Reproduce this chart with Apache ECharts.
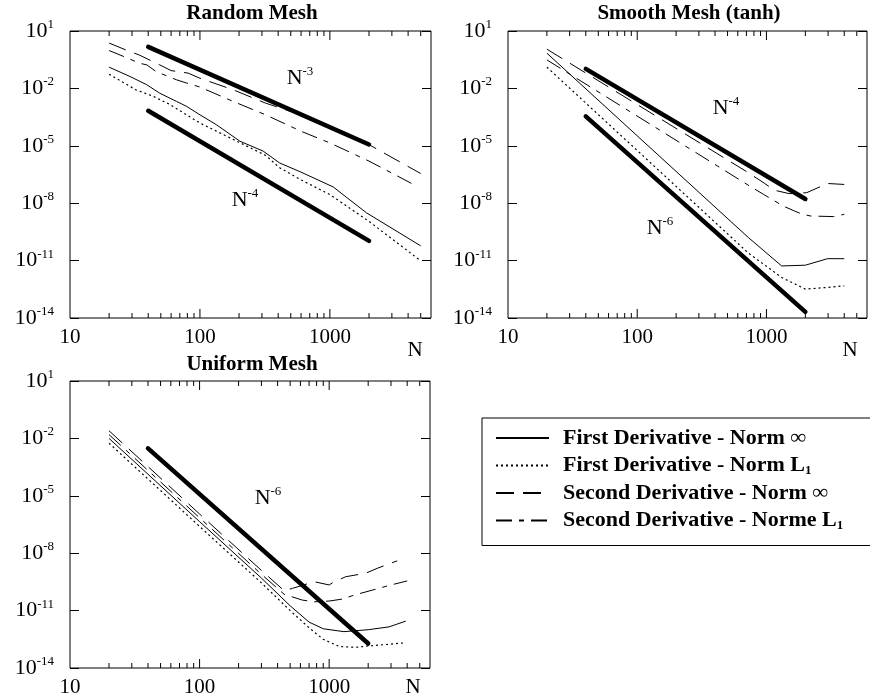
<!DOCTYPE html>
<html>
<head>
<meta charset="utf-8">
<title>Derivative error vs N</title>
<script src="https://cdn.jsdelivr.net/npm/echarts@6/dist/echarts.min.js"></script>
<style>
  html, body { margin: 0; padding: 0; background: #fff; }
  #chart { width: 870px; height: 698px; }
</style>
</head>
<body>
<div id="chart"></div>
<script>
// values: x = N, y = log10(error)
const seriesNames = [
  'First Derivative - Norm ∞',
  'First Derivative - Norm L1',
  'Second Derivative - Norm ∞',
  'Second Derivative - Norme L1'
];

// Random mesh
const randomFirstInfN = [20, 29, 39, 49, 66, 79, 100, 134, 203, 307, 411, 588, 1060, 1910, 5000];
const randomFirstInf = [-0.89, -1.38, -1.81, -2.25, -2.68, -2.94, -3.38, -3.9, -4.76, -5.28, -5.9, -6.35, -7.15, -8.5, -10.23];
const randomFirstL1N = [20, 32, 44, 59, 100, 320, 411, 588, 1000, 2000, 5000];
const randomFirstL1 = [-1.26, -2.07, -2.42, -2.85, -3.81, -5.5, -6.15, -6.75, -7.55, -8.95, -11.01];
const randomSecondInfN = [20, 29, 34, 49, 60, 81, 100, 180, 320, 600, 1000, 2000, 5000];
const randomSecondInf = [0.37, -0.08, -0.25, -0.77, -1.07, -1.2, -1.47, -2.07, -2.77, -3.38, -4.07, -4.94, -6.45];
const randomSecondL1N = [20, 29, 34, 39, 46, 66, 79, 100, 180, 320, 600, 1000, 2000, 4400];
const randomSecondL1 = [-0.02, -0.47, -0.68, -0.77, -1.12, -1.55, -1.72, -1.93, -2.68, -3.38, -4.24, -4.85, -5.8, -7.02];

// Smooth mesh (tanh)
const smoothFirstInfN = [20, 726, 1312, 2000, 2970, 4000];
const smoothFirstInf = [-0.16, -9.8, -11.28, -11.24, -10.9, -10.9];
const smoothFirstL1N = [20, 726, 1312, 2000, 2970, 4000];
const smoothFirstL1 = [-0.89, -10.61, -11.88, -12.49, -12.4, -12.32];
const smoothSecondInfN = [20, 726, 970, 1150, 1500, 2050, 2970, 4000];
const smoothSecondInf = [0.05, -6.41, -6.97, -7.32, -7.5, -7.45, -6.97, -7.02];
const smoothSecondL1N = [20, 740, 950, 1350, 1650, 1900, 2200, 3300, 4000];
const smoothSecondL1 = [-0.51, -7.1, -7.54, -8.15, -8.41, -8.58, -8.67, -8.7, -8.58];

// Uniform mesh
const uniformFirstInfN = [20, 100, 300, 500, 700, 900, 1300, 2000, 2900, 3900];
const uniformFirstInf = [-2.0, -6.35, -9.3, -10.75, -11.6, -11.95, -12.1, -12.0, -11.85, -11.55];
const uniformFirstL1N = [20, 100, 300, 500, 700, 900, 1200, 1600, 2000, 3000, 3900];
const uniformFirstL1 = [-2.25, -6.6, -9.55, -11.0, -11.9, -12.5, -12.88, -12.92, -12.85, -12.75, -12.68];
const uniformSecondInfN = [20, 100, 300, 450, 520, 767, 1000, 1060, 1340, 1910, 2350, 3350];
const uniformSecondInf = [-1.6, -5.95, -8.9, -9.96, -9.84, -9.49, -9.66, -9.55, -9.23, -9.05, -8.79, -8.4];
const uniformSecondL1N = [20, 100, 300, 450, 620, 770, 1000, 1260, 1560, 2150, 3000, 4000];
const uniformSecondL1 = [-1.8, -6.15, -9.1, -10.15, -10.45, -10.54, -10.5, -10.4, -10.19, -9.93, -9.66, -9.45];

// slope reference lines (thick), endpoints at N = 40 and 2000
const refN = [40, 2000];
const randomRefN3 = [0.17, -4.93];
const randomRefN4 = [-3.17, -9.97];
const smoothRefN4 = [-0.98, -7.78];
const smoothRefN6 = [-3.46, -13.68];
const uniformRefN6 = [-2.52, -12.72];

// axis ticks
const xMaxN = 6000;
const yMin = -14, yMax = 1, yStep = 3;
const majorTickN = [100, 1000];
const minorTickN = [20, 30, 40, 50, 60, 70, 80, 90, 200, 300, 400, 500, 600, 700, 800, 900, 2000, 3000, 4000, 5000];

const FONT = '"Liberation Serif", "Times New Roman", Times, serif';
const BLACK = '#000';

const lineTypes = [
  { width: 1, type: 'solid' },
  { width: 1.2, type: [2, 3] },
  { width: 1, type: [18, 9] },
  { width: 1, type: [16, 7, 5, 7] }
];

const panels = [
  {
    grid: { left: 70, top: 31, width: 361, height: 287 },
    curves: [[randomFirstInfN, randomFirstInf], [randomFirstL1N, randomFirstL1],
             [randomSecondInfN, randomSecondInf], [randomSecondL1N, randomSecondL1]],
    refs: [randomRefN3, randomRefN4]
  },
  {
    grid: { left: 508, top: 31, width: 359, height: 287 },
    curves: [[smoothFirstInfN, smoothFirstInf], [smoothFirstL1N, smoothFirstL1],
             [smoothSecondInfN, smoothSecondInf], [smoothSecondL1N, smoothSecondL1]],
    refs: [smoothRefN4, smoothRefN6]
  },
  {
    grid: { left: 70, top: 381, width: 360, height: 287 },
    curves: [[uniformFirstInfN, uniformFirstInf], [uniformFirstL1N, uniformFirstL1],
             [uniformSecondInfN, uniformSecondInf], [uniformSecondL1N, uniformSecondL1]],
    refs: [uniformRefN6]
  }
];

const toPoints = (ns, vs) => ns.map((n, i) => [Math.log10(n), vs[i]]);

const grid = [], xAxis = [], yAxis = [], series = [];

panels.forEach((p, i) => {
  grid.push(Object.assign({ show: true, borderColor: BLACK, borderWidth: 1, backgroundColor: 'transparent' }, p.grid));

  xAxis.push({
    gridIndex: i, type: 'value', min: 1, max: Math.log10(xMaxN), interval: 1,
    position: 'bottom',
    axisLine: { show: false }, splitLine: { show: false }, axisTick: { show: false },
    axisLabel: {
      margin: 9, color: BLACK, fontFamily: FONT, fontSize: 21,
      formatter: v => (Math.abs(v - Math.round(v)) < 1e-9 ? String(Math.pow(10, Math.round(v))) : '')
    }
  });

  const yBase = {
    gridIndex: i, type: 'value', min: yMin, max: yMax, interval: yStep,
    axisLine: { show: false }, splitLine: { show: false },
    axisTick: { inside: true, length: 9, lineStyle: { color: BLACK } }
  };
  yAxis.push(Object.assign({}, yBase, {
    position: 'left',
    axisLabel: {
      margin: 16, color: BLACK,
      formatter: v => '{b|10}{s|' + v + '}',
      rich: {
        b: { fontFamily: FONT, fontSize: 22, lineHeight: 26, color: BLACK },
        s: { fontFamily: FONT, fontSize: 13, lineHeight: 13, verticalAlign: 'top', color: BLACK }
      }
    }
  }));
  yAxis.push(Object.assign({}, yBase, { position: 'right', axisLabel: { show: false } }));

  const xi = i, yi = i * 2;

  p.curves.forEach((c, k) => {
    series.push({
      name: seriesNames[k], type: 'line', xAxisIndex: xi, yAxisIndex: yi,
      data: toPoints(c[0], c[1]), symbol: 'none', showSymbol: false, silent: true,
      lineStyle: { color: BLACK, width: lineTypes[k].width, type: lineTypes[k].type },
      itemStyle: { color: BLACK }, z: 3
    });
  });

  p.refs.forEach(r => {
    series.push({
      name: 'reference', type: 'line', xAxisIndex: xi, yAxisIndex: yi,
      data: toPoints(refN, r), symbol: 'none', silent: true,
      lineStyle: { color: BLACK, width: 4.5, cap: 'round' }, z: 4
    });
  });

  // x ticks on bottom and top edges (major at decades, minor at 2..9 x 10^k)
  series.push({
    type: 'custom', xAxisIndex: xi, yAxisIndex: yi, silent: true, z: 5,
    encode: { x: 0, y: 1 },
    data: majorTickN.concat(minorTickN).map(n => [Math.log10(n), yMin]),
    renderItem: (params, api) => {
      const x = api.value(0);
      const len = Math.abs(x - Math.round(x)) < 1e-9 ? 9 : 5;
      const b = api.coord([x, yMin]);
      const t = api.coord([x, yMax]);
      const st = { stroke: BLACK, lineWidth: 1 };
      return {
        type: 'group',
        children: [
          { type: 'line', shape: { x1: b[0], y1: b[1], x2: b[0], y2: b[1] - len }, style: st },
          { type: 'line', shape: { x1: t[0], y1: t[1], x2: t[0], y2: t[1] + len }, style: st }
        ]
      };
    }
  });
});

const titleText = (text, x, y) => ({
  type: 'text', x: x, y: y,
  style: { text: text, fill: BLACK, font: 'bold 21px ' + FONT, align: 'center', verticalAlign: 'middle' }
});
const plainText = (text, x, y) => ({
  type: 'text', x: x, y: y,
  style: { text: text, fill: BLACK, font: '21px ' + FONT, align: 'center', verticalAlign: 'middle' }
});
const powerText = (exp, x, y) => ({
  type: 'text', x: x, y: y,
  style: {
    text: '{n|N}{s|' + exp + '}', align: 'center', verticalAlign: 'middle',
    rich: {
      n: { fontFamily: FONT, fontSize: 22, lineHeight: 26, fill: BLACK },
      s: { fontFamily: FONT, fontSize: 13, lineHeight: 13, verticalAlign: 'top', fill: BLACK }
    }
  }
});

const option = {
  animation: false,
  backgroundColor: '#fff',
  grid: grid,
  xAxis: xAxis,
  yAxis: yAxis,
  series: series,
  legend: {
    data: seriesNames,
    orient: 'vertical',
    left: 482, top: 418,
    itemWidth: 53, itemHeight: 14, itemGap: 3.5,
    padding: [8, 60, 13, 13],
    borderColor: BLACK, borderWidth: 1, borderRadius: 0,
    selectedMode: false,
    itemStyle: { opacity: 0 },
    textStyle: {
      fontFamily: FONT, fontWeight: 'bold', fontSize: 22, lineHeight: 24, color: BLACK,
      padding: [0, 0, 0, 9],
      rich: {
        sub: { fontFamily: FONT, fontWeight: 'bold', fontSize: 13, lineHeight: 13, verticalAlign: 'bottom', color: BLACK }
      }
    },
    formatter: name => name.replace(/L1$/, 'L{sub|1}')
  },
  graphic: [
    titleText('Random Mesh', 252, 14),
    titleText('Smooth Mesh (tanh)', 689, 14),
    titleText('Uniform Mesh', 252, 365),
    plainText('N', 415, 350),
    plainText('N', 850, 350),
    plainText('N', 413, 687),
    powerText('-3', 300, 78),
    powerText('-4', 245, 200),
    powerText('-4', 726, 108),
    powerText('-6', 660, 228),
    powerText('-6', 268, 498)
  ]
};

const chart = echarts.init(document.getElementById('chart'));
chart.setOption(option);
</script>
</body>
</html>
